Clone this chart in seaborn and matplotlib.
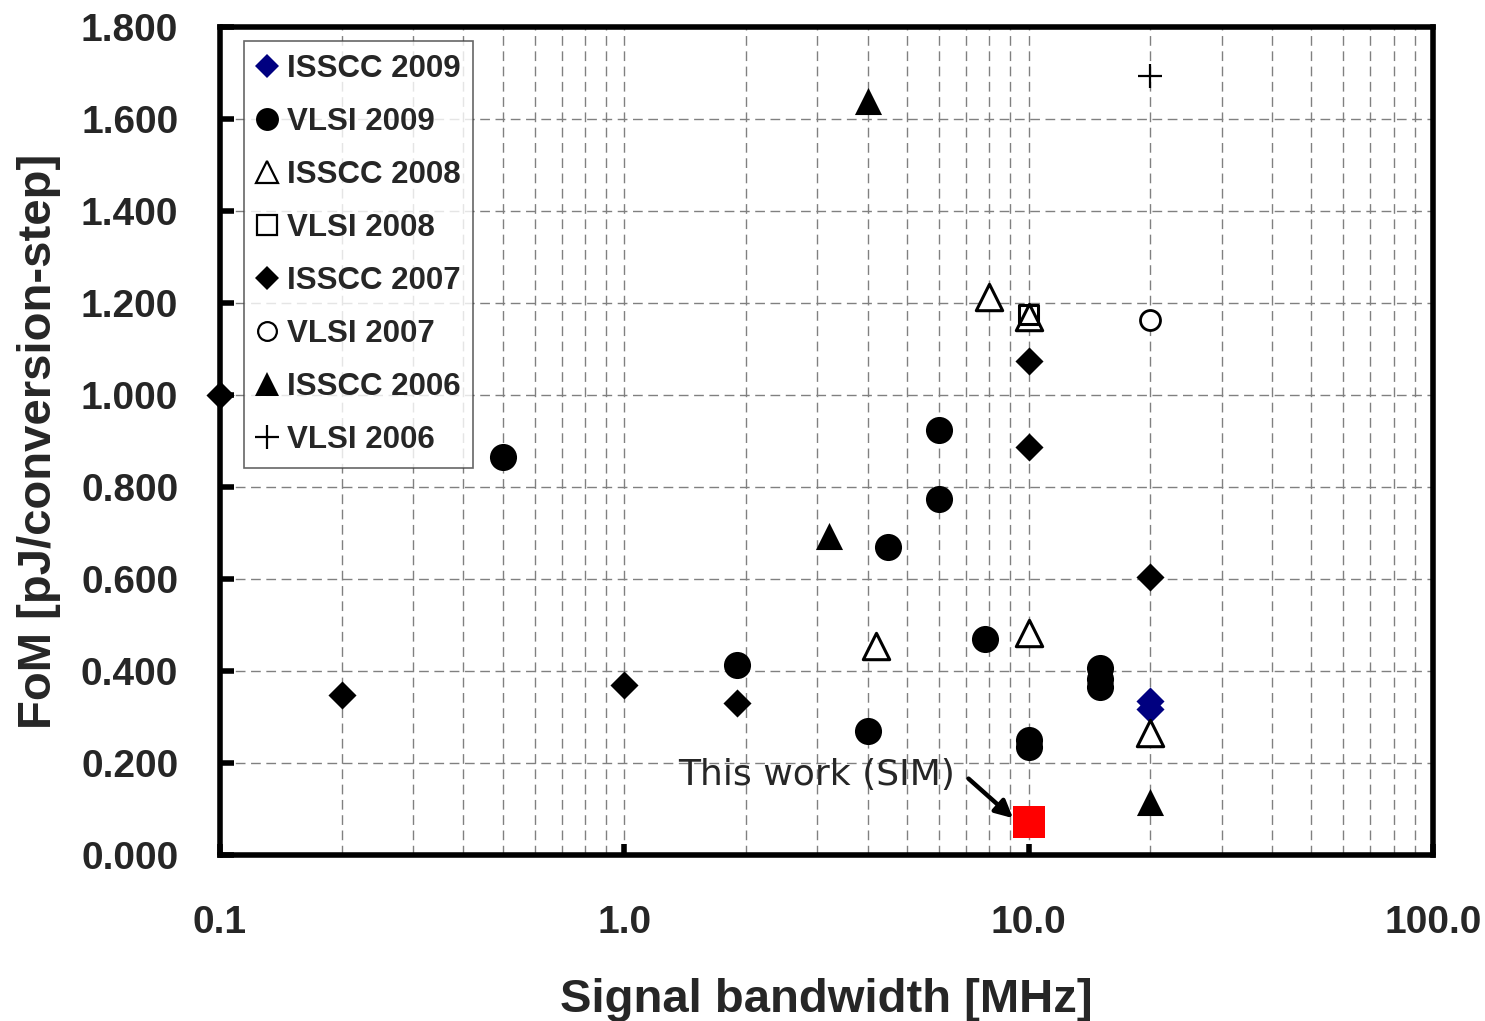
import numpy as np
import pandas as pd
import matplotlib
matplotlib.use("Agg")
import matplotlib.pyplot as plt
import seaborn as sns
from matplotlib.lines import Line2D
from matplotlib.ticker import FixedLocator, FixedFormatter, NullFormatter, LogLocator

# ---------------- data ----------------
isscc2009_x = [20, 20]
isscc2009_y = [0.335, 0.318]

vlsi2009_x = [0.5, 6, 6, 4.5, 1.9, 4, 7.8, 15, 15, 15, 10, 10]
vlsi2009_y = [0.865, 0.924, 0.774, 0.670, 0.413, 0.270, 0.470, 0.407, 0.382, 0.365, 0.250, 0.235]

isscc2008_x = [8, 10, 4.2, 10, 20]
isscc2008_y = [1.213, 1.170, 0.454, 0.483, 0.265]

vlsi2008_x = [10]
vlsi2008_y = [1.175]

isscc2007_x = [0.1, 0.2, 1.0, 1.9, 10, 10, 20]
isscc2007_y = [1.000, 0.348, 0.370, 0.330, 1.074, 0.887, 0.604]

vlsi2007_x = [20]
vlsi2007_y = [1.163]

isscc2006_x = [4, 3.2, 20]
isscc2006_y = [1.640, 0.693, 0.115]

vlsi2006_x = [20]
vlsi2006_y = [1.693]

thiswork_x = [10]
thiswork_y = [0.072]

y_ticks = [0.0, 0.2, 0.4, 0.6, 0.8, 1.0, 1.2, 1.4, 1.6, 1.8]
y_ticklabels = ["0.000", "0.200", "0.400", "0.600", "0.800", "1.000", "1.200", "1.400", "1.600", "1.800"]
x_ticks = [0.1, 1.0, 10.0, 100.0]
x_ticklabels = ["0.1", "1.0", "10.0", "100.0"]

# ---------------- style ----------------
sns.set_theme(style="white")
plt.rcParams["font.family"] = ["Liberation Sans", "DejaVu Sans"]
plt.rcParams["font.weight"] = "bold"

fig = plt.figure(figsize=(14.85, 10.21), dpi=100)
ax = fig.add_axes([0.1481, 0.1626, 0.965 - 0.1481, 0.9736 - 0.1626])

# name, xs, ys, scatter kwargs, legend marker kwargs
series = [
    ("ISSCC 2009", isscc2009_x, isscc2009_y,
     dict(marker="D", s=14.3**2, color="#000080", edgecolor="#000080", linewidth=0),
     dict(marker="D", markersize=12.5, markerfacecolor="#000080", markeredgecolor="#000080", markeredgewidth=0)),
    ("VLSI 2009", vlsi2009_x, vlsi2009_y,
     dict(marker="o", s=19.5**2, color="black", edgecolor="black", linewidth=0),
     dict(marker="o", markersize=16.5, markerfacecolor="black", markeredgecolor="black", markeredgewidth=0)),
    ("ISSCC 2008", isscc2008_x, isscc2008_y,
     dict(marker="^", s=19**2, facecolor="white", edgecolor="black", linewidth=2.2),
     dict(marker="^", markersize=16.5, markerfacecolor="white", markeredgecolor="black", markeredgewidth=1.6)),
    ("VLSI 2008", vlsi2008_x, vlsi2008_y,
     dict(marker="s", s=14**2, facecolor="none", edgecolor="black", linewidth=2.2),
     dict(marker="s", markersize=14, markerfacecolor="white", markeredgecolor="black", markeredgewidth=1.6)),
    ("ISSCC 2007", isscc2007_x, isscc2007_y,
     dict(marker="D", s=14.3**2, color="black", edgecolor="black", linewidth=0),
     dict(marker="D", markersize=12.5, markerfacecolor="black", markeredgecolor="black", markeredgewidth=0)),
    ("VLSI 2007", vlsi2007_x, vlsi2007_y,
     dict(marker="o", s=14.4**2, facecolor="white", edgecolor="black", linewidth=2.0),
     dict(marker="o", markersize=13.5, markerfacecolor="white", markeredgecolor="black", markeredgewidth=1.6)),
    ("ISSCC 2006", isscc2006_x, isscc2006_y,
     dict(marker="^", s=19.5**2, color="black", edgecolor="black", linewidth=0),
     dict(marker="^", markersize=17, markerfacecolor="black", markeredgecolor="black", markeredgewidth=0)),
    ("VLSI 2006", vlsi2006_x, vlsi2006_y,
     dict(marker="+", s=17**2, color="black", linewidth=1.6),
     dict(marker="+", markersize=17, markeredgecolor="black", markeredgewidth=1.6)),
]

handles = []
for i, (name, xs, ys, kw, lkw) in enumerate(series):
    df = pd.DataFrame({"x": xs, "y": ys})
    sns.scatterplot(data=df, x="x", y="y", ax=ax, zorder=3 + i * 0.1, clip_on=False, legend=False, **kw)
    handles.append(Line2D([], [], linestyle="none", label=name, **lkw))

# this work
dfw = pd.DataFrame({"x": thiswork_x, "y": thiswork_y})
sns.scatterplot(data=dfw, x="x", y="y", ax=ax, marker="s", s=23**2, color="#FF0000",
                edgecolor="#FF0000", linewidth=0, zorder=5, legend=False)

ax.set_xscale("log")
ax.set_xlim(0.1, 100)
ax.set_ylim(0, 1.8)

ax.xaxis.set_major_locator(FixedLocator(x_ticks))
ax.xaxis.set_major_formatter(FixedFormatter(x_ticklabels))
ax.xaxis.set_minor_locator(LogLocator(base=10, subs=np.arange(2, 10)))
ax.xaxis.set_minor_formatter(NullFormatter())
ax.yaxis.set_major_locator(FixedLocator(y_ticks))
ax.yaxis.set_major_formatter(FixedFormatter(y_ticklabels))

ax.grid(True, which="both", axis="x", color="#808080", linestyle=(0, (7, 4)), linewidth=1.0, zorder=0)
ax.grid(True, which="major", axis="y", color="#808080", linestyle=(0, (7, 4)), linewidth=1.0, zorder=0)
ax.set_axisbelow(True)

for sp in ax.spines.values():
    sp.set_linewidth(4.0)
    sp.set_color("black")
    sp.set_visible(True)

ax.tick_params(axis="y", which="major", direction="in", length=10, width=4, color="black",
               labelsize=28, pad=30, left=True)
ax.tick_params(axis="x", which="major", direction="in", length=8, width=4, color="black",
               labelsize=28, pad=36, bottom=True)
ax.tick_params(axis="x", which="minor", length=0)
for lab in ax.get_xticklabels() + ax.get_yticklabels():
    lab.set_fontweight("bold")

ax.set_xlabel("Signal bandwidth [MHz]", fontsize=34, fontweight="bold", labelpad=27)
ax.set_ylabel("FoM [pJ/conversion-step]", fontsize=34, fontweight="bold", labelpad=14)

leg = ax.legend(handles=handles, loc="upper left", bbox_to_anchor=(0.0198, 0.983), frameon=True,
                fancybox=False, handletextpad=0.3, handlelength=0.68,
                borderpad=0.4, labelspacing=0.74, borderaxespad=0, edgecolor="#404040",
                prop={"weight": "bold", "size": 22.5})
leg.get_frame().set_linewidth(1.2)
leg.set_zorder(10)

# annotation
ax.text(1.36, 0.174, "This work (SIM)", fontsize=26, fontweight="normal",
        family=["DejaVu Sans"], va="center", ha="left", zorder=6)
ax.annotate("", xy=(9.15, 0.08), xytext=(7.1, 0.166),
            arrowprops=dict(arrowstyle="-|>", color="black", lw=3.2, mutation_scale=26,
                            shrinkA=0, shrinkB=0), zorder=6)

fig.savefig("out.png", dpi=100, facecolor="white")
